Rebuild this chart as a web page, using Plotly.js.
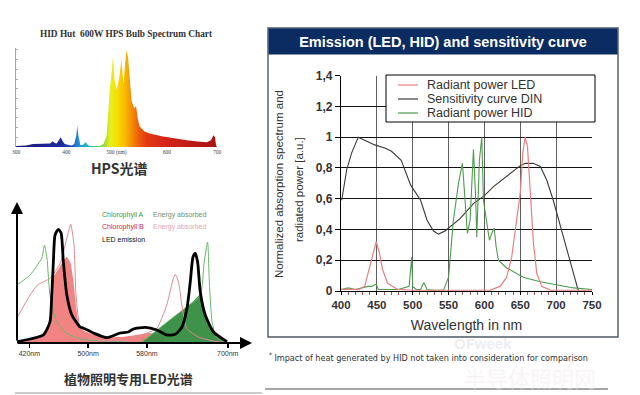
<!DOCTYPE html>
<html><head><meta charset="utf-8">
<script src="https://cdn.plot.ly/plotly-3.0.1.min.js"></script>
<style>html,body{margin:0;padding:0;background:#fff}#c{width:640px;height:395px}</style>
</head><body><div id="c"></div>
<script>
// ---------- Main chart: Emission (LED, HID) and sensitivity curve ----------
const mainTicksX = [400,450,500,550,600,650,700,750];
const dinX = [401,408,415,424,433,447,461,470,484,490,497,511,520,529,536,545,555,566,585,600,613,627,641,650,657,668,678,687,696,706,715,724,729,731];
const dinY = [0.59,0.79,0.90,1.0,0.98,0.95,0.93,0.91,0.85,0.77,0.69,0.59,0.46,0.39,0.37,0.39,0.43,0.47,0.57,0.62,0.68,0.73,0.78,0.815,0.83,0.83,0.81,0.72,0.59,0.42,0.27,0.115,0.02,0];
const ledX = [400,425,433,440,444.5,449,453.7,458,465,479,500,550,600,608,622,631,638,644,650,653.5,656.7,660,663.7,668.4,673,680,692,750];
const ledY = [0.01,0.01,0.03,0.16,0.245,0.32,0.245,0.14,0.05,0.01,0.005,0.005,0.005,0.006,0.03,0.09,0.22,0.42,0.64,0.9,1.0,0.94,0.64,0.31,0.115,0.03,0.006,0.005];
const hidX = [400,410,420,430,437.6,443,449,452,460,480,495,498.6,500,505,511,515.6,520,530,543,550,556.7,563.8,569.3,573,576.3,580,584.7,587.9,589.3,593,596.3,598.6,602.3,607,610.2,613.5,616.3,619.5,631,654,678,701,724,750];
const hidY = [0.01,0.02,0.01,0.02,0.03,0.03,0.045,0.01,0.01,0.01,0.03,0.22,0.03,0.01,0.01,0.055,0.01,0.005,0.006,0.09,0.46,0.70,0.83,0.59,0.375,0.46,0.92,0.59,0.35,0.85,1.0,0.59,0.46,0.33,0.375,0.41,0.29,0.2,0.15,0.09,0.06,0.04,0.02,0.01];
const mainLegend = ['Radiant power LED','Sensitivity curve DIN','Radiant power HID'];
const mainYTitle = ['Normalized absorption spectrum and','radiated power [a.u.]'];

// ---------- HPS bulb spectrum ----------
const hpsWl = [300,308,320,334,350,361,368,373,377,381,386,389,393,397,405,411,416,420,422,424,428,433,439,443,447,455,467,474,480,483,486.5,490,493,496,500,505,510,512,514,517,520,523,526,530,535,539,542,546,556,566,590,611,640,665,680,688,691,693,696,698,700];
const hpsVal = [0.01,0.01,0.015,0.03,0.035,0.04,0.035,0.06,0.04,0.035,0.07,0.10,0.06,0.03,0.02,0.015,0.03,0.12,0.22,0.12,0.02,0.02,0.05,0.02,0.01,0.01,0.01,0.03,0.11,0.3,0.59,0.75,0.93,0.7,0.59,0.7,0.90,0.75,0.66,0.85,1.0,0.92,0.7,0.48,0.4,0.42,0.3,0.21,0.16,0.14,0.11,0.09,0.07,0.055,0.05,0.07,0.1,0.12,0.1,0.02,0];
const hpsTicks = [300,400,500,600,700];
const hpsTickText = ['300','400','500 (nm)','600','700'];

// ---------- Chlorophyll / LED chart ----------
const chlTicks = [420,500,580,690];
const chlTickText = ['420nm','500nm','580nm','700nm'];
const ledEmX = [403,421,439,448,450.5,452.7,455,459.5,463.2,466.3,471,477.8,489.1,493.2,507.2,525.9,543.6,554.5,561.7,577.7,593.6,607.2,618.6,627.7,634.5,639,642.7,645.8,649,652.6,659.4,670.7,689];
const ledEmY = [1.3,4,8,21,48,81,108,113.7,110,81,48,28,16,15,10,5.3,10,11,14,15.7,13,8,8.7,16,34.7,61,86,89.7,81,51,28,11,1.3];
const chlAX = [403,421,437,440.5,444,448,457,470,490,520,550,571,600,620,640,652.6,658,662.6,665,668.6,675,689];
const chlAY = [58,68,85,98,85,48,21,10,4,2,1,0.5,16.6,28,39.4,47,81,101,60,21,5,0];
const chlBX = [403,421,431,448,462,471,476.3,480.8,483.5,489,500,530,560,580,593.6,607,616,618.6,623,627.5,634,650,670,689];
const chlBY = [24.7,48,58,64.7,79.7,104.7,118.7,98,48,15,5,2,5,10,14.7,38,64.7,68.7,61,38,14.7,6,2,0];
const fillBX = [403,421,439,448,450.5,452.7,456,461,466,471,476,480,483,486,489,495,505,520,545,565,585,600,606];
const fillBY = [0,4,8,21,48,66,70,76,82,86,80,62,40,24,16,12,9,6,6,8,10,6,0];
const fillAX = [571,585,600,620,640,652.5,659.4,670.7,689];
const fillAY = [0,8,16.6,28,39.4,49,28,11,1.3];
const chlLegend = ['Chlorophyll A','Energy absorbed','Chlorophyll B','Energy absorbed','LED emission'];

const W = 640, H = 395;
const X = p => p / W, Y = p => 1 - p / H;

const traces = [
  {x: dinX, y: dinY, xaxis:'x', yaxis:'y', mode:'lines', line:{color:'#3a3a3a', width:1.1}, name: mainLegend[1]},
  {x: hidX, y: hidY, xaxis:'x', yaxis:'y', mode:'lines', line:{color:'#4f9a4f', width:1.1}, name: mainLegend[2]},
  {x: ledX, y: ledY, xaxis:'x', yaxis:'y', mode:'lines', line:{color:'#e98080', width:1.2}, name: mainLegend[0]},
  {x: hpsWl, y: hpsVal, xaxis:'x2', yaxis:'y2', mode:'lines', line:{width:0}, fill:'tozeroy',
   fillgradient:{type:'horizontal', start:300, stop:700, colorscale:[
     [0,'#1c1a78'],[0.225,'#1d2a9c'],[0.275,'#1d4cb6'],[0.305,'#2186d2'],[0.35,'#22b0c4'],
     [0.40,'#44c685'],[0.44,'#a4dc3c'],[0.47,'#e8ee1e'],[0.50,'#f8e000'],[0.54,'#f8bc00'],
     [0.575,'#f48e00'],[0.61,'#ee5e0c'],[0.65,'#e43a12'],[0.75,'#d42418'],[1,'#a81010']]}},
  {x: fillBX, y: fillBY, xaxis:'x3', yaxis:'y3', mode:'lines', line:{width:0, shape:'spline', smoothing:0.4}, fill:'tozeroy', fillcolor:'rgba(240,120,120,0.92)'},
  {x: fillAX, y: fillAY, xaxis:'x3', yaxis:'y3', mode:'lines', line:{width:0}, fill:'tozeroy', fillcolor:'rgba(52,140,64,0.95)'},
  {x: chlAX, y: chlAY, xaxis:'x3', yaxis:'y3', mode:'lines', line:{color:'#6cb86c', width:1, shape:'spline', smoothing:0.5}},
  {x: chlBX, y: chlBY, xaxis:'x3', yaxis:'y3', mode:'lines', line:{color:'#e08a95', width:1, shape:'spline', smoothing:0.5}},
  {x: ledEmX, y: ledEmY, xaxis:'x3', yaxis:'y3', mode:'lines', line:{color:'#000', width:2.8, shape:'spline', smoothing:0.6}}
];

const ann = [];
const shapes = [];
function txt(px, py, text, font, xa, angle, pad) {
  ann.push({xref:'paper', yref:'paper', x:X(px), y:Y(py), xanchor:xa || 'center', yanchor:'middle', text:text, showarrow:false, font:font, textangle:angle || 0, borderpad:(pad === undefined ? 1 : pad)});
}
// main chart frame + title bar
shapes.push({type:'rect', xref:'paper', yref:'paper', x0:X(268), x1:X(618), y0:Y(337), y1:Y(28), line:{color:'#4d5866', width:1.4}, fillcolor:'rgba(0,0,0,0)', layer:'below'});
ann.push({xref:'paper', yref:'paper', x:X(443), y:Y(41.5), xanchor:'center', yanchor:'middle', width:348, height:25, bgcolor:'#0b2c62', borderpad:0,
  text:'<b>Emission (LED, HID) and sensitivity curve</b>', showarrow:false, font:{family:'Liberation Sans, Arial', size:14.5, color:'#ffffff'}});
// y title of main chart (two lines)
txt(279, 184, mainYTitle[0], {family:'Liberation Sans, Arial', size:11.5, color:'#333'}, 'center', -90);
txt(299, 190, mainYTitle[1], {family:'Liberation Sans, Arial', size:11.5, color:'#333'}, 'center', -90);
// custom legend for main chart
shapes.push({type:'rect', xref:'paper', yref:'paper', x0:X(386), x1:X(595), y0:Y(122), y1:Y(75), line:{color:'#000', width:1}, fillcolor:'#fff', layer:'above'});
const legCols = ['#e98080','#3a3a3a','#4f9a4f'];
const legY = [85, 99, 113];
for (let i = 0; i < 3; i++) {
  shapes.push({type:'line', xref:'paper', yref:'paper', x0:X(398), x1:X(418), y0:Y(legY[i]), y1:Y(legY[i]), line:{color:legCols[i], width:1.2}, layer:'above'});
  txt(426, legY[i], mainLegend[i], {family:'Liberation Sans, Arial', size:12.5, color:'#333'}, 'left', 0, 0);
}
// footnote
txt(267, 357, '<sup>*</sup> Impact of heat generated by HID not taken into consideration for comparison', {family:'Liberation Sans Narrow, DejaVu Sans Condensed, Arial', size:9, color:'#333'}, 'left');
shapes.push({type:'line', xref:'paper', yref:'paper', x0:X(265), x1:X(608), y0:Y(389), y1:Y(389), line:{color:'#888', width:1.5}});
// watermark
txt(452, 343, '<b>OFweek</b>', {family:'Liberation Sans, Arial', size:15, color:'rgba(215,215,225,0.45)'}, 'left');
txt(530, 377, '半导体照明网', {family:'Noto Sans CJK SC', size:22, color:'rgba(240,232,235,0.45)'});

// HPS title and caption
txt(126, 34, '<b>HID Hut  600W HPS Bulb Spectrum Chart</b>', {family:'Liberation Serif, Times New Roman', size:9.3, color:'#333'});
txt(119, 168, '<b>HPS光谱</b>', {family:'Noto Sans CJK SC', size:14, color:'#333'});

// Chlorophyll chart arrows, legend and caption
ann.push({xref:'paper', yref:'paper', x:X(17), y:Y(202), ax:0, ay:140, text:'', showarrow:true, arrowhead:2, arrowsize:1.2, arrowwidth:2, arrowcolor:'#000'});
ann.push({xref:'paper', yref:'paper', x:X(252), y:Y(343), ax:-236, ay:0, text:'', showarrow:true, arrowhead:2, arrowsize:1.2, arrowwidth:2, arrowcolor:'#000'});
const chlLegX = [100,151,100,151,100];
const chlLegY = [215,215,227,227,239];
const chlLegC = ['#3d9a3d','#6f8f6f','#d0243c','#e6a6b4','#111'];
for (let i = 0; i < 5; i++) txt(chlLegX[i], chlLegY[i], chlLegend[i], {family:'Liberation Sans, Arial', size:7, color:chlLegC[i]}, 'left');
txt(128, 378, '<b>植物照明专用LED光谱</b>', {family:'Noto Sans CJK SC', size:13, color:'#333'});
shapes.push({type:'line', xref:'paper', yref:'paper', x0:X(15), x1:X(262), y0:Y(393), y1:Y(393), line:{color:'#999', width:1.2}});

const layout = {
  width: W, height: H, margin:{l:0, r:0, t:0, b:0},
  paper_bgcolor:'#fff', plot_bgcolor:'rgba(0,0,0,0)', showlegend:false, separators:',.',
  font:{family:'Liberation Sans, Arial', color:'#333'},
  xaxis:{domain:[X(341), X(592)], range:[400,750], anchor:'y', tickvals:mainTicksX, showgrid:true, gridcolor:'#606060', gridwidth:1,
    showline:true, linecolor:'#000', linewidth:1.2, ticks:'outside', ticklen:3, tickcolor:'#000', zeroline:false,
    minor:{dtick:10, ticks:'outside', ticklen:3, tickcolor:'#a55', showgrid:false},
    tickfont:{size:11.5, color:'#333', weight:'bold'}, title:{text:'Wavelength in nm', font:{size:14, color:'#333'}, standoff:10}},
  yaxis:{domain:[Y(291), Y(75.7)], range:[0,1.4], anchor:'x', dtick:0.2, showgrid:true, gridcolor:'#111', gridwidth:1,
    showline:true, linecolor:'#000', linewidth:1.2, ticks:'outside', ticklen:5, tickcolor:'#000', zeroline:false,
    tickfont:{size:12, color:'#333', weight:'bold'}},
  xaxis2:{domain:[X(16), X(217)], range:[300,700], anchor:'y2', tickvals:hpsTicks, ticktext:hpsTickText, showgrid:false, zeroline:false,
    showline:false, ticks:'', tickfont:{family:'Liberation Serif', size:5.5, color:'#444'}},
  yaxis2:{domain:[Y(147), Y(48)], range:[0,1.02], anchor:'x2', showgrid:false, zeroline:false, showticklabels:false,
    showline:true, linecolor:'#aaa', linewidth:1, ticks:'inside', ticklen:2, tickcolor:'#aaa', dtick:0.1},
  xaxis3:{domain:[X(17), X(252)], range:[403.2,723], anchor:'y3', tickvals:chlTicks, ticktext:chlTickText, showgrid:false, zeroline:false,
    showline:false, ticks:'outside', ticklen:4, tickwidth:1.5, tickcolor:'#000', tickfont:{size:7, color:'#333'}},
  yaxis3:{domain:[Y(343), Y(203)], range:[0,140], anchor:'x3', visible:false},
  shapes: shapes, annotations: ann
};
Plotly.newPlot('c', traces, layout, {staticPlot:true, displayModeBar:false});
</script></body></html>
